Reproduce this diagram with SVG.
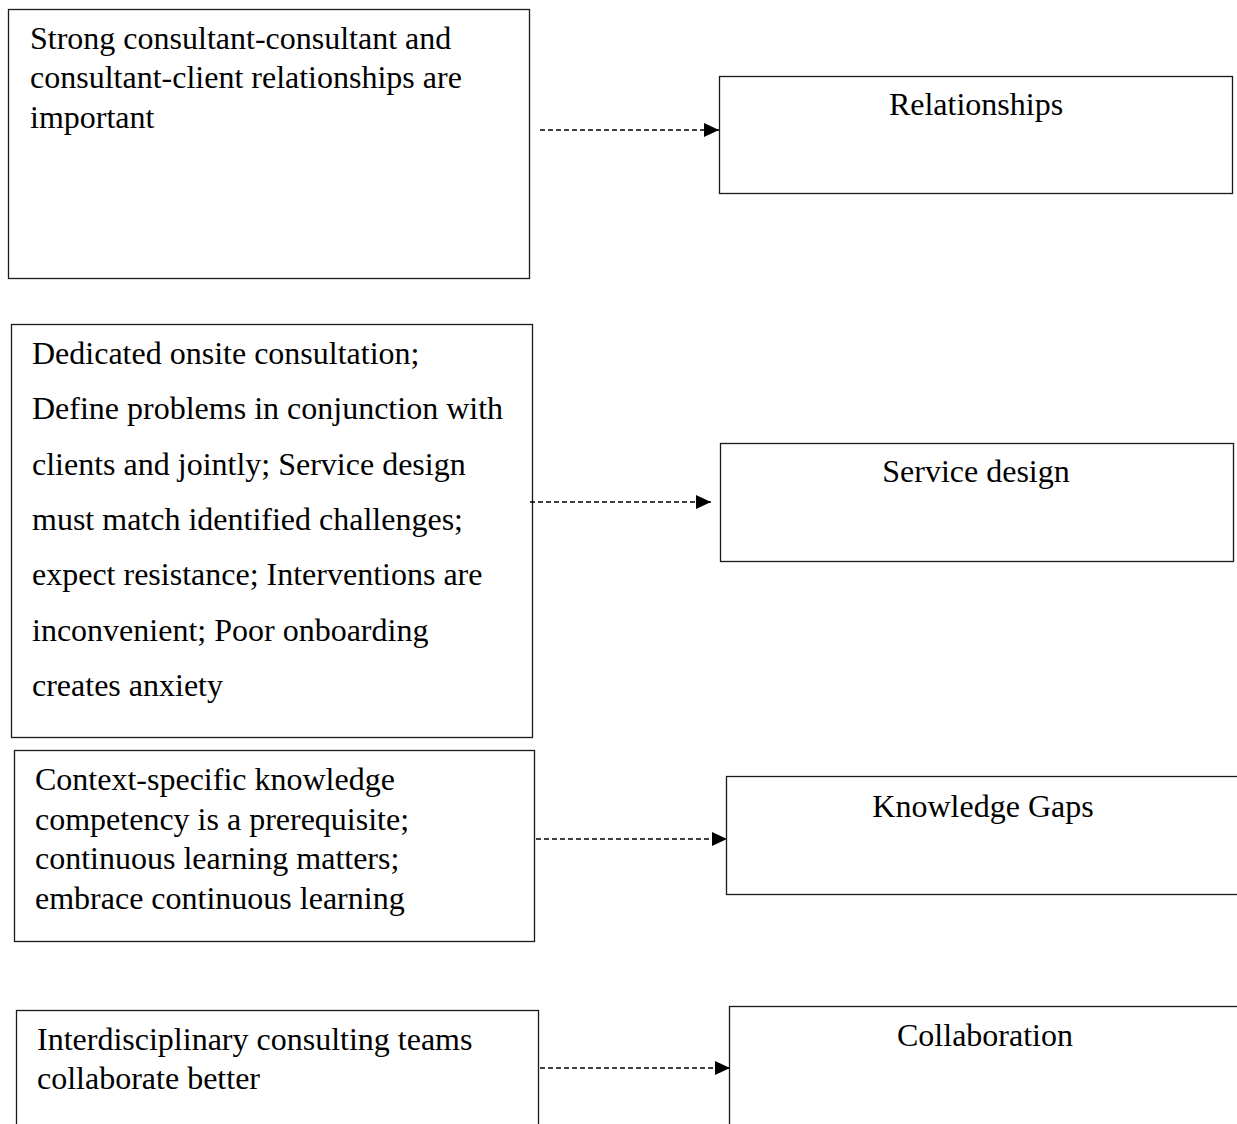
<svg xmlns="http://www.w3.org/2000/svg" width="1237" height="1124" viewBox="0 0 1237 1124">
  <style>
    .box { fill: #ffffff; stroke: #1a1a1a; stroke-width: 1.3; }
    .txt { font-family: "Liberation Serif", "Times New Roman", serif; font-size: 32px; fill: #000000; }
    .mid { text-anchor: middle; }
    .link { fill: none; stroke: #000000; stroke-width: 1.5; stroke-dasharray: 5 3; }
  </style>
  <defs>
    <marker id="head" markerUnits="userSpaceOnUse" markerWidth="15" markerHeight="14" refX="15" refY="7" orient="auto">
      <path d="M0,0 L15,7 L0,14 Z" fill="#000000"/>
    </marker>
  </defs>
  <rect width="1237" height="1124" fill="#ffffff"/>

  <!-- left-hand statement boxes -->
  <g id="node-relationships-detail">
    <rect class="box" x="8.5" y="9.5" width="521" height="269"/>
    <text class="txt" x="30" y="49">Strong consultant-consultant and</text>
    <text class="txt" x="30" y="88">consultant-client relationships are</text>
    <text class="txt" x="30" y="128">important</text>
  </g>
  <g id="node-service-detail">
    <rect class="box" x="11.5" y="324.5" width="521" height="413"/>
    <text class="txt" x="32" y="364">Dedicated onsite consultation;</text>
    <text class="txt" x="32" y="419">Define problems in conjunction with</text>
    <text class="txt" x="32" y="475">clients and jointly; Service design</text>
    <text class="txt" x="32" y="530">must match identified challenges;</text>
    <text class="txt" x="32" y="585">expect resistance; Interventions are</text>
    <text class="txt" x="32" y="641">inconvenient; Poor onboarding</text>
    <text class="txt" x="32" y="696">creates anxiety</text>
  </g>
  <g id="node-knowledge-detail">
    <rect class="box" x="14.5" y="750.5" width="520" height="191"/>
    <text class="txt" x="35" y="790">Context-specific knowledge</text>
    <text class="txt" x="35" y="830">competency is a prerequisite;</text>
    <text class="txt" x="35" y="869">continuous learning matters;</text>
    <text class="txt" x="35" y="909">embrace continuous learning</text>
  </g>
  <g id="node-collaboration-detail">
    <rect class="box" x="16.5" y="1010.5" width="522" height="140"/>
    <text class="txt" x="37" y="1050">Interdisciplinary consulting teams</text>
    <text class="txt" x="37" y="1089">collaborate better</text>
  </g>

  <!-- right-hand theme boxes -->
  <g id="node-relationships">
    <rect class="box" x="719.5" y="76.5" width="513" height="117"/>
    <text class="txt mid" x="976" y="115">Relationships</text>
  </g>
  <g id="node-service-design">
    <rect class="box" x="720.5" y="443.5" width="513" height="118"/>
    <text class="txt mid" x="976" y="482">Service design</text>
  </g>
  <g id="node-knowledge-gaps">
    <rect class="box" x="726.5" y="776.5" width="520" height="118"/>
    <text class="txt mid" x="983" y="817">Knowledge Gaps</text>
  </g>
  <g id="node-collaboration">
    <rect class="box" x="729.5" y="1006.5" width="520" height="140"/>
    <text class="txt mid" x="985" y="1046">Collaboration</text>
  </g>

  <!-- dashed connectors -->
  <g id="connectors">
    <line class="link" x1="540" y1="130" x2="719" y2="130" marker-end="url(#head)"/>
    <line class="link" x1="530" y1="502" x2="711" y2="502" marker-end="url(#head)"/>
    <line class="link" x1="536" y1="839" x2="727" y2="839" marker-end="url(#head)"/>
    <line class="link" x1="540" y1="1068" x2="730" y2="1068" marker-end="url(#head)"/>
  </g>
</svg>
